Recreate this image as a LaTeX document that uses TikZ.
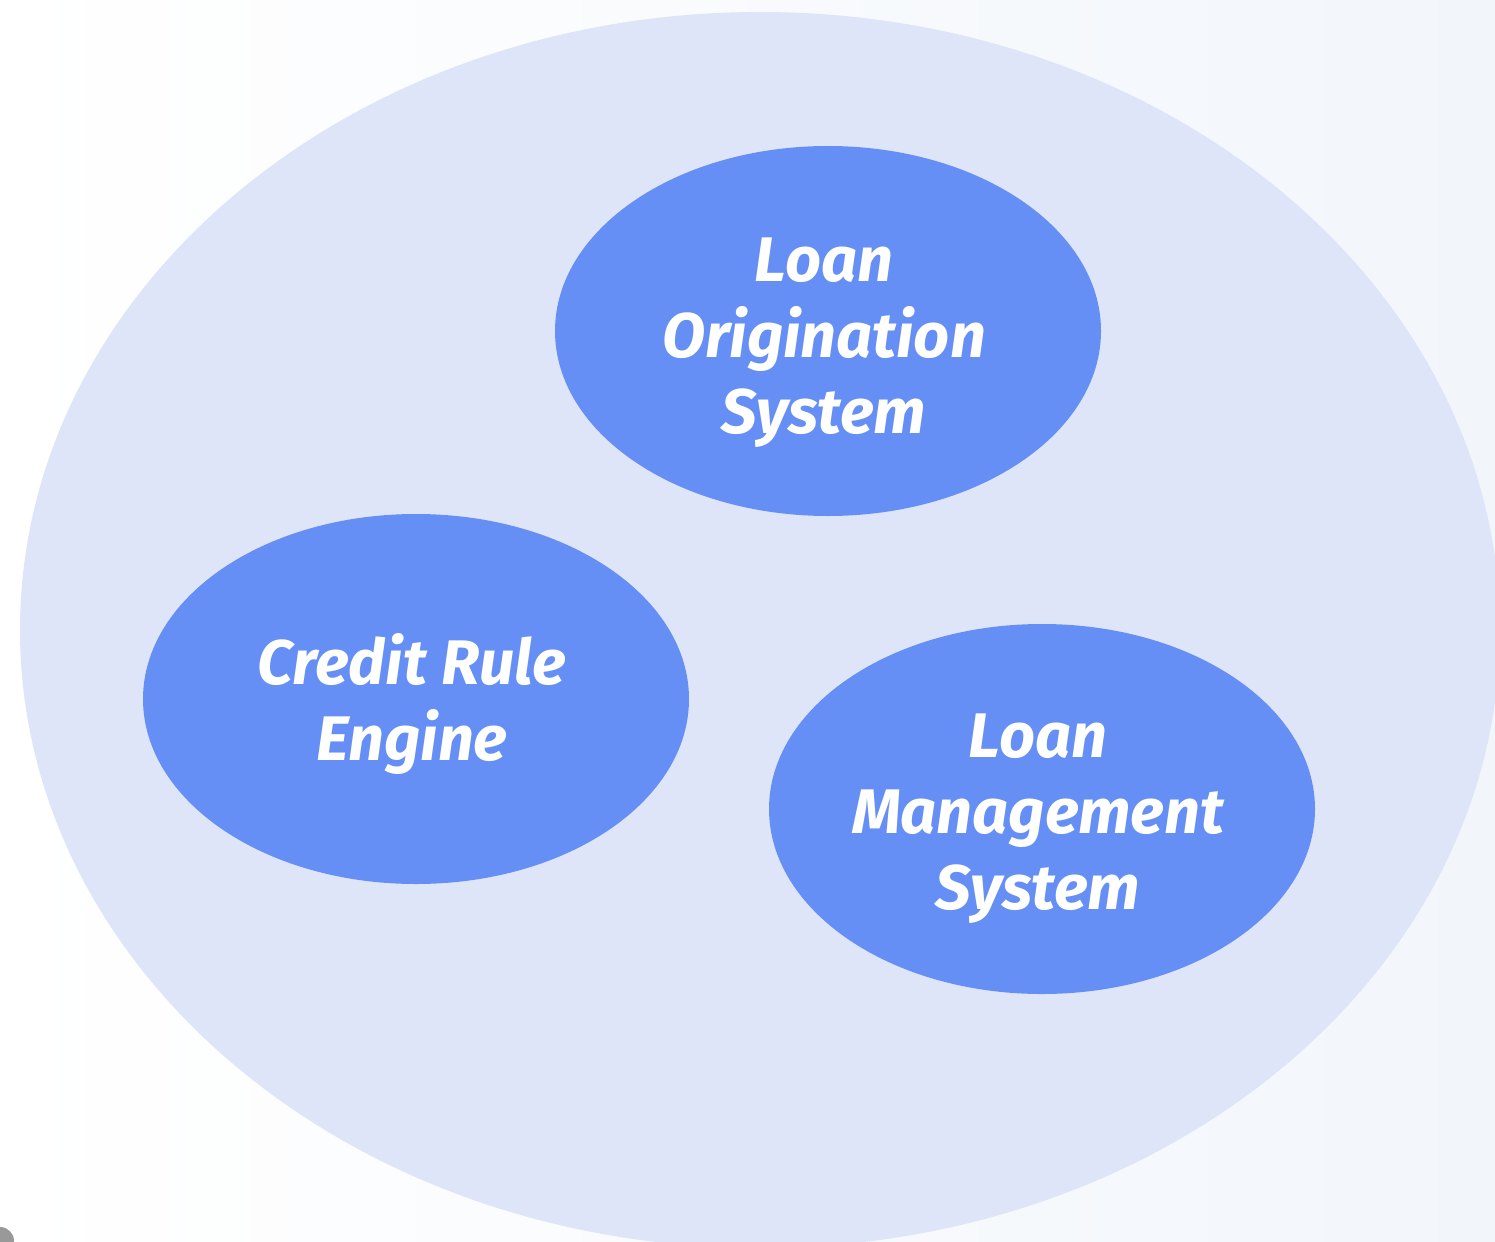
\documentclass[tikz,border=0pt]{standalone}
\usepackage{fontspec}
\setmainfont{Fira Sans}
\newfontfamily\labelfont{Fira Sans}[UprightFont=* SemiBold, ItalicFont=* SemiBold Italic, BoldItalicFont=* Bold Italic]
\usetikzlibrary{shapes.geometric}
\definecolor{outerfill}{RGB}{223,229,248}
\definecolor{innerfill}{RGB}{102,143,246}
\definecolor{bgright}{RGB}{242,246,251}
\tikzset{
  sysnode/.style={ellipse, fill=innerfill, minimum width=546pt, minimum height=370pt, inner sep=0pt},
  systext/.style={text=white, align=center, inner sep=0pt,
    font=\labelfont\bfseries\itshape\fontsize{63}{76}\selectfont}
}
\begin{document}
\begin{tikzpicture}[x=1pt,y=-1pt]
\useasboundingbox (0,0) rectangle (1495,1241);
\clip (0,0) rectangle (1495,1241);
\shade[left color=white, right color=bgright] (0,0) rectangle (1495,1241);
\fill[outerfill] (760,630) ellipse [x radius=740, y radius=618];
\fill[gray!80] (0,1241) circle [radius=14];
\node[sysnode] (los) at (828,331) {};
\node[sysnode] (cre) at (416,699) {};
\node[sysnode] (lms) at (1042,809) {};
\node[systext] (lost) at ([xshift=-4pt,yshift=-12pt]los.center) {Loan\\Origination\\System};
\node[systext] (cret) at ([xshift=-4pt,yshift=-5pt]cre.center) {Credit Rule\\Engine};
\node[systext] (lmst) at ([xshift=-4pt,yshift=-10pt]lms.center) {Loan\\Management\\System};
\end{tikzpicture}
\end{document}
